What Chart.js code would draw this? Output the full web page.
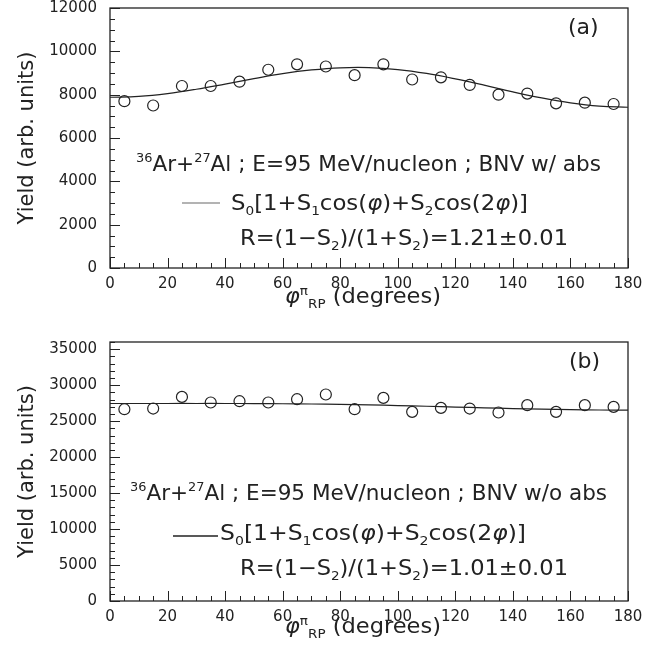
<!DOCTYPE html>
<html>
<head>
<meta charset="utf-8">
<script src="https://cdn.jsdelivr.net/npm/chart.js@4.4.1/dist/chart.umd.min.js"></script>
<style>
  html, body { margin: 0; padding: 0; background: #fff; }
  #wrap { position: relative; width: 658px; height: 662px; }
  .panel { position: absolute; left: 0; width: 658px; }
  #panelA { top: 0; height: 330px; }
  #panelB { top: 330px; height: 332px; }
</style>
</head>
<body>
<div id="wrap">
  <div class="panel" id="panelA"><canvas id="chartA"></canvas></div>
  <div class="panel" id="panelB"><canvas id="chartB"></canvas></div>
</div>
<script>
// pion yield vs. azimuth relative to the reaction plane, 10 degree bins
const angles = [5, 15, 25, 35, 45, 55, 65, 75, 85, 95, 105, 115, 125, 135, 145, 155, 165, 175];
const yieldAbs = [7700, 7500, 8400, 8400, 8600, 9150, 9400, 9300, 8900, 9400, 8700, 8800, 8450, 8000, 8050, 7600, 7630, 7570];
const yieldNoAbs = [26660, 26750, 28370, 27590, 27770, 27590, 28050, 28700, 26660, 28230, 26290, 26840, 26750, 26200, 27220, 26290, 27220, 26980];

// fitted S0[1+S1cos+S2cos2] curves, sampled every 10 degrees
const fitAngles = [0, 10, 20, 30, 40, 50, 60, 70, 80, 90, 100, 110, 120, 130, 140, 150, 160, 170, 180];
const fitAbs = [7880, 7920, 8050, 8250, 8490, 8740, 8970, 9140, 9240, 9250, 9160, 8980, 8730, 8440, 8130, 7850, 7620, 7470, 7420];
const fitNoAbs = [27450, 27450, 27455, 27455, 27455, 27445, 27420, 27385, 27330, 27260, 27170, 27070, 26960, 26850, 26750, 26660, 26590, 26545, 26530];

// labelled y ticks
const yTicksAbs = [0, 2000, 4000, 6000, 8000, 10000, 12000];
const yTicksNoAbs = [0, 5000, 10000, 15000, 20000, 25000, 30000, 35000];

const ink = "#222";
const face = "'DejaVu Sans', sans-serif";

Chart.defaults.font.family = face;
Chart.defaults.color = ink;

// text with sub/superscript runs: plain strings or [text, "sup"|"sub"|"it"]
function runs(parts) {
  return parts.map((p) => (typeof p === "string" ? [p, ""] : p));
}

function runFont(kind, size) {
  if (kind === "it") return `italic ${size}px ${face}`;
  return `${kind ? size * 0.6 : size}px ${face}`;
}

function richWidth(ctx, parts, size) {
  let w = 0;
  for (const [t, kind] of runs(parts)) {
    ctx.font = runFont(kind, size);
    w += ctx.measureText(t).width;
  }
  return w;
}

// draws a line of rich text starting at x, stretched to width w if given
function drawRich(ctx, x, y, parts, size, w) {
  const natural = richWidth(ctx, parts, size);
  ctx.save();
  ctx.translate(x, y);
  if (w) ctx.scale(w / natural, 1);
  let cx = 0;
  for (const [t, kind] of runs(parts)) {
    const dy = kind === "sup" ? -size * 0.4 : kind === "sub" ? size * 0.22 : 0;
    ctx.font = runFont(kind, size);
    ctx.fillText(t, cx, dy);
    cx += ctx.measureText(t).width;
  }
  ctx.restore();
}

// box around the plot with inward ticks
const frame = {
  id: "frame",
  afterDatasetsDraw(chart, args, o) {
    const { ctx, chartArea: a, scales: { x, y } } = chart;
    ctx.save();
    ctx.strokeStyle = ink;
    ctx.lineWidth = 1;
    ctx.beginPath();
    for (let v = 0; v <= 180; v += 5) {
      const px = Math.round(x.getPixelForValue(v)) + 0.5;
      ctx.moveTo(px, a.bottom);
      ctx.lineTo(px, a.bottom - (v % 20 ? 5 : 10));
    }
    for (let v = 0; v <= o.max; v += o.minor) {
      const py = Math.round(y.getPixelForValue(v)) + 0.5;
      ctx.moveTo(a.left, py);
      ctx.lineTo(a.left + (v % o.major ? 5 : 10), py);
    }
    ctx.stroke();
    ctx.lineWidth = 1.3;
    ctx.strokeRect(a.left, a.top, a.right - a.left, a.bottom - a.top);
    ctx.restore();
  },
};

const notes = {
  id: "notes",
  afterDraw(chart, args, o) {
    const { ctx, chartArea: a } = chart;
    ctx.save();
    ctx.fillStyle = ink;
    ctx.textBaseline = "alphabetic";
    ctx.textAlign = "left";
    drawRich(ctx, o.tag[0], o.tag[1], [o.tag[2]], 22);
    for (const l of o.lines) drawRich(ctx, l.x, l.y, l.parts, 21.5, l.w);

    ctx.strokeStyle = o.sample.color;
    ctx.lineWidth = o.sample.width;
    ctx.beginPath();
    ctx.moveTo(o.sample.x0, o.sample.y);
    ctx.lineTo(o.sample.x1, o.sample.y);
    ctx.stroke();

    const title = [["\u03c6", "it"], ["\u03c0", "sup"], ["RP", "sub"], " (degrees)"];
    const tw = 156;
    drawRich(ctx, (a.left + a.right) / 2 - tw / 2 - 6, o.titleY, title, 21, tw);
    ctx.restore();
  },
};

const formula = ["S", ["0", "sub"], "[1+S", ["1", "sub"], "cos(", ["\u03c6", "it"], ")+S", ["2", "sub"], "cos(2", ["\u03c6", "it"], ")]"];

function panel(id, ys, fitYs, yTicks, o) {
  return new Chart(document.getElementById(id), {
    type: "scatter",
    data: {
      datasets: [
        {
          data: fitAngles.map((v, i) => ({ x: v, y: fitYs[i] })),
          showLine: true,
          borderColor: ink,
          borderWidth: 1.2,
          pointRadius: 0,
          tension: 0.4,
          order: 2,
        },
        {
          data: angles.map((v, i) => ({ x: v, y: ys[i] })),
          pointStyle: "circle",
          pointRadius: 5.5,
          borderColor: ink,
          borderWidth: 1.2,
          backgroundColor: "rgba(0,0,0,0)",
          order: 1,
        },
      ],
    },
    options: {
      responsive: true,
      maintainAspectRatio: false,
      animation: false,
      layout: { padding: { top: o.top, right: 30, left: 0, bottom: 0 } },
      plugins: {
        legend: { display: false },
        tooltip: { enabled: false },
        frame: { max: o.max, major: o.major, minor: o.minor },
        notes: o.notes,
      },
      scales: {
        x: {
          type: "linear",
          min: 0,
          max: 180,
          grid: { display: false, drawTicks: false },
          border: { display: false },
          ticks: { stepSize: 20, padding: 7, autoSkip: false, maxRotation: 0, font: { size: 15 } },
          afterFit: (s) => { s.height = o.xh; s.paddingLeft = 0; s.paddingRight = 0; },
        },
        y: {
          min: 0,
          max: o.max,
          grid: { display: false, drawTicks: false },
          border: { display: false },
          ticks: { padding: 13, autoSkip: false, font: { size: 15 }, callback: (v) => String(v) },
          afterBuildTicks: (s) => { s.ticks = yTicks.map((v) => ({ value: v })); },
          title: { display: true, text: "Yield (arb. units)", font: { size: 21 }, padding: { top: 15 } },
          afterFit: (s) => { s.width = 110; s.paddingTop = 0; s.paddingBottom = 0; },
        },
      },
    },
    plugins: [frame, notes],
  });
}

panel("chartA", yieldAbs, fitAbs, yTicksAbs, {
  top: 8, xh: 62, max: 12000, major: 2000, minor: 500,
  notes: {
    tag: [568, 34, "(a)"],
    lines: [
      { x: 136, y: 171, w: 465, parts: [["36", "sup"], "Ar+", ["27", "sup"], "Al ; E=95 MeV/nucleon ; BNV w/ abs"] },
      { x: 231, y: 210, w: 297, parts: formula },
      { x: 240, y: 245, w: 328, parts: ["R=(1\u2212S", ["2", "sub"], ")/(1+S", ["2", "sub"], ")=1.21\u00b10.01"] },
    ],
    sample: { x0: 182, x1: 220, y: 203, color: "#9a9a9a", width: 1.5 },
    titleY: 303,
  },
});

panel("chartB", yieldNoAbs, fitNoAbs, yTicksNoAbs, {
  top: 12, xh: 61, max: 36000, major: 5000, minor: 1000,
  notes: {
    tag: [569, 38, "(b)"],
    lines: [
      { x: 130, y: 170, w: 477, parts: [["36", "sup"], "Ar+", ["27", "sup"], "Al ; E=95 MeV/nucleon ; BNV w/o abs"] },
      { x: 220, y: 210, w: 306, parts: formula },
      { x: 240, y: 245, w: 328, parts: ["R=(1\u2212S", ["2", "sub"], ")/(1+S", ["2", "sub"], ")=1.01\u00b10.01"] },
    ],
    sample: { x0: 173, x1: 218, y: 206, color: ink, width: 1.6 },
    titleY: 303,
  },
});
</script>
</body>
</html>
